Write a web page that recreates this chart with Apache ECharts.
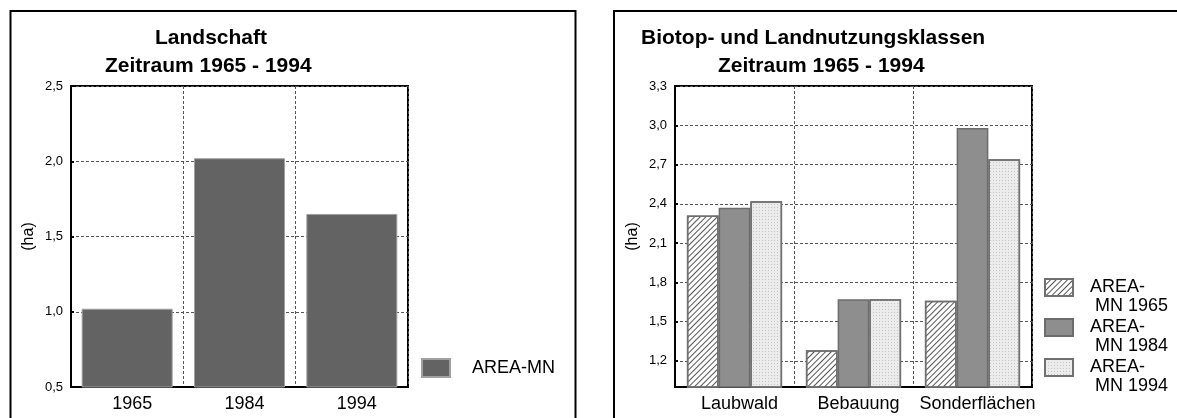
<!DOCTYPE html>
<html>
<head>
<meta charset="utf-8">
<script src="https://cdn.jsdelivr.net/npm/echarts@6/dist/echarts.min.js"></script>
<style>
	html, body { margin: 0; padding: 0; background: #fff; }
	#main { width: 1177px; height: 418px; }
</style>
</head>
<body>
<div id="main"></div>
<script>
	// linkes Diagramm: Landschaft
	var yearsLeft = ['1965', '1984', '1994'];
	var areaMnLeft = [1.02, 2.02, 1.65];
	var ticksLeft = [0.5, 1.0, 1.5, 2.0, 2.5];

	// rechtes Diagramm: Biotop- und Landnutzungsklassen
	var classesRight = ['Laubwald', 'Bebauung', 'Sonderflächen'];
	var area1965 = [2.31, 1.28, 1.66];
	var area1984 = [2.37, 1.67, 2.98];
	var area1994 = [2.42, 1.67, 2.74];
	var ticksRight = [1.2, 1.5, 1.8, 2.1, 2.4, 2.7, 3.0, 3.3];

	var font = "'Liberation Sans', Arial, sans-serif";

	function komma(v) {
		return v.toFixed(1).replace('.', ',');
	}

	var chart = echarts.init(document.getElementById('main'), null, { renderer: 'canvas' });

	var titleStyle = { fontFamily: font, fontSize: 21, fontWeight: 'bold', color: '#000' };
	var gridLine = { show: true, lineStyle: { color: '#555', type: [3, 2], width: 1 } };

	function xAxisFor(idx, cats) {
		return {
			type: 'category',
			gridIndex: idx,
			data: cats,
			axisLine: { lineStyle: { color: '#000', width: 2 } },
			axisTick: { show: false },
			axisLabel: { interval: 0, margin: 8, color: '#000', fontFamily: font, fontSize: 18, padding: [0, 0, 0, 10] },
			splitLine: { show: true, interval: 0, lineStyle: gridLine.lineStyle }
		};
	}

	function yAxisFor(idx, min, max, ticks) {
		var ax = {
			type: 'value',
			gridIndex: idx,
			min: min,
			max: max,
			name: '(ha)',
			nameLocation: 'middle',
			nameGap: 34,
			nameTextStyle: { fontFamily: font, fontSize: 16, color: '#000' },
			axisLine: { show: true, lineStyle: { color: '#000', width: 2 } },
			axisTick: { show: true, inside: true, length: 3, lineStyle: { color: '#000', width: 2 } },
			axisLabel: { margin: 8, color: '#000', fontFamily: font, fontSize: 13, formatter: komma },
			splitLine: gridLine
		};
		if (idx === 0) {
			ax.interval = 0.5;
		} else {
			ax.axisTick.customValues = ticks;
			ax.axisLabel.customValues = ticks;
		}
		return ax;
	}

	var option = {
		animation: false,
		backgroundColor: '#fff',
		title: [
			{ text: 'Landschaft', left: 155, top: 28, padding: 0, textStyle: titleStyle },
			{ text: 'Zeitraum 1965 - 1994', left: 105, top: 56, padding: 0, textStyle: titleStyle },
			{ text: 'Biotop- und Landnutzungsklassen', left: 641, top: 28, padding: 0, textStyle: titleStyle },
			{ text: 'Zeitraum 1965 - 1994', left: 718, top: 56, padding: 0, textStyle: titleStyle }
		],
		grid: [
			{ left: 71, top: 86, width: 337, height: 301, show: true, borderColor: '#000', borderWidth: 2, containLabel: false },
			{ left: 675, top: 86, width: 357, height: 301, show: true, borderColor: '#000', borderWidth: 2, containLabel: false }
		],
		legend: [
			{
				data: ['AREA-MN'],
				left: 421,
				top: 358,
				padding: 0,
				icon: 'rect',
				itemWidth: 28,
				itemHeight: 18,
				textStyle: { fontFamily: font, fontSize: 18, color: '#000', padding: [0, 0, 0, 17] }
			},
			{
				data: ['AREA-MN 1965', 'AREA-MN 1984', 'AREA-MN 1994'],
				orient: 'vertical',
				left: 1044,
				top: 259,
				padding: 0,
				icon: 'rect',
				itemWidth: 28,
				itemHeight: 17,
				itemGap: -17,
				formatter: function(name) {
					// leere erste Zeile, damit "AREA-" auf Höhe des Symbols steht
					return ' \n' + name.replace('AREA-', 'AREA-\n ');
				},
				textStyle: { fontFamily: font, fontSize: 18, lineHeight: 19, color: '#000', padding: [0, 0, 0, 12] }
			}
		],
		xAxis: [xAxisFor(0, yearsLeft), xAxisFor(1, classesRight)],
		yAxis: [yAxisFor(0, 0.5, 2.5, ticksLeft), yAxisFor(1, 1.0, 3.3, ticksRight)],
		series: [
			{
				name: 'AREA-MN',
				type: 'bar',
				xAxisIndex: 0,
				yAxisIndex: 0,
				barWidth: '81%',
				itemStyle: { color: '#636363', borderColor: '#a0a0a0', borderWidth: 1 },
				data: areaMnLeft
			},
			{
				name: 'AREA-MN 1965',
				type: 'bar',
				xAxisIndex: 1,
				yAxisIndex: 1,
				barGap: 0,
				barCategoryGap: '20%',
				itemStyle: {
					color: '#fff',
					borderColor: '#707070',
					borderWidth: 1.5,
					decal: {
						symbol: 'rect',
						symbolSize: 1,
						dashArrayX: [1, 0],
						dashArrayY: [1, 3],
						rotation: -Math.PI / 4,
						color: '#555'
					}
				},
				data: area1965
			},
			{
				name: 'AREA-MN 1984',
				type: 'bar',
				xAxisIndex: 1,
				yAxisIndex: 1,
				barGap: 0,
				barCategoryGap: '20%',
				itemStyle: { color: '#8e8e8e', borderColor: '#6c6c6c', borderWidth: 1.5 },
				data: area1984
			},
			{
				name: 'AREA-MN 1994',
				type: 'bar',
				xAxisIndex: 1,
				yAxisIndex: 1,
				barGap: 0,
				barCategoryGap: '20%',
				itemStyle: {
					color: '#ececec',
					borderColor: '#707070',
					borderWidth: 1.5,
					decal: {
						symbol: 'rect',
						symbolSize: 1,
						dashArrayX: [1, 2],
						dashArrayY: [1, 2],
						color: '#c4c4c4'
					}
				},
				data: area1994
			}
		],
		graphic: [
			{ type: 'rect', silent: true, shape: { x: 10.5, y: 11, width: 565, height: 430 }, style: { fill: null, stroke: '#000', lineWidth: 2 } },
			{ type: 'rect', silent: true, shape: { x: 614, y: 11, width: 600, height: 430 }, style: { fill: null, stroke: '#000', lineWidth: 2 } }
		]
	};

	chart.setOption(option);
</script>
</body>
</html>
